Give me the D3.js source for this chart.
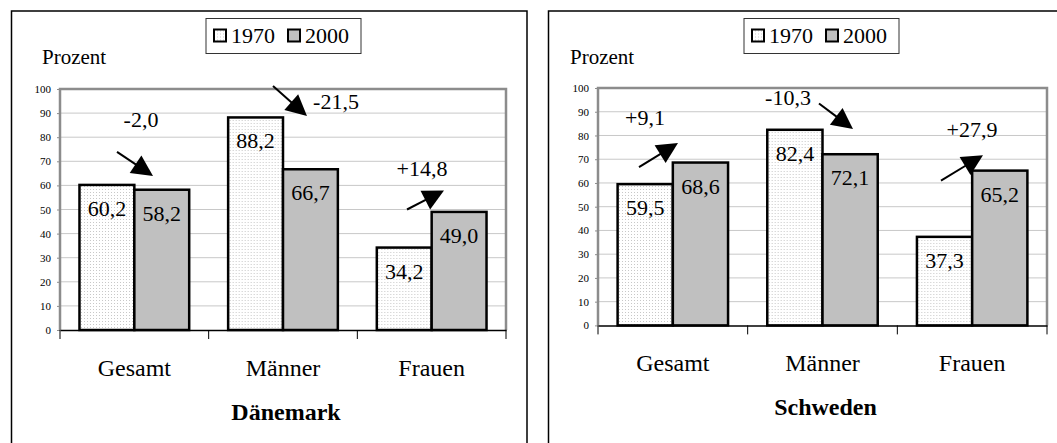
<!DOCTYPE html>
<html>
<head>
<meta charset="utf-8">
<script src="https://cdn.jsdelivr.net/npm/d3@7"></script>
</head>
<body style="margin:0; background:#fff">
<svg id="vis" width="1057" height="443" style="display:block"></svg>
<script>
// data
var categories = ["Gesamt", "Männer", "Frauen"];
var years = ["1970", "2000"];
var daenemark1970 = [60.2, 88.2, 34.2];
var daenemark2000 = [58.2, 66.7, 49.0];
var schweden1970 = [59.5, 82.4, 37.3];
var schweden2000 = [68.6, 72.1, 65.2];
var yTicks = [0, 10, 20, 30, 40, 50, 60, 70, 80, 90, 100];

var serif = "Liberation Serif";

// layout of the two panels (pixel positions, not data)
var panels = [
    {
        title: "Dänemark", v1970: daenemark1970, v2000: daenemark2000,
        frameX: 11.5, plot: {x: 60, y: 89, w: 446, h: 241}, prozentX: 42, legendX: 206,
        // label [dx, value], arrow from [dx, value] to [dx, value]
        notes: [
            {label: [81, 84.2], from: [57, 73.9], to: [93, 63.9]},
            {label: [276, 91.7], from: [213, 101.2], to: [247, 88.8]},
            {label: [362, 64.1], from: [347, 50], to: [384, 57.9]}
        ]
    },
    {
        title: "Schweden", v1970: schweden1970, v2000: schweden2000,
        frameX: 548.5, plot: {x: 598, y: 88, w: 449, h: 237.4}, prozentX: 570, legendX: 744,
        notes: [
            {label: [47, 84.4], from: [41, 66.7], to: [80, 76.8]},
            {label: [190, 92.8], from: [221, 93.5], to: [255, 82.7]},
            {label: [374, 79.4], from: [343, 61], to: [385, 71.7]}
        ]
    }
];

var fmt = function(v) { return v.toFixed(1).replace(".", ","); };
var fmtChange = function(v) { return (v > 0 ? "+" : "") + fmt(v); };

var svg = d3.select("#vis");

// dotted fill for 1970
var defs = svg.append("defs");
var pat = defs.append("pattern")
    .attr("id", "dots")
    .attr("width", 3)
    .attr("height", 3)
    .attr("patternUnits", "userSpaceOnUse");
pat.append("rect").attr("width", 3).attr("height", 3).attr("fill", "#fff");
pat.append("rect").attr("width", 1).attr("height", 1).attr("fill", "#c8c8c8");

var fills = {"1970": "url(#dots)", "2000": "#c0c0c0"};

var render_panel = function(p) {
    var g = svg.append("g");

    // outer frame (open at bottom / right edge of picture)
    g.append("path")
        .attr("d", "M" + p.frameX + ",443 V11 H" + (p.frameX + 515.5) + " V443")
        .attr("fill", "none")
        .attr("stroke", "#000")
        .attr("stroke-width", 1.5);

    var x = d3.scaleBand()
        .domain(categories)
        .range([p.plot.x, p.plot.x + p.plot.w]);

    var xSub = d3.scaleBand()
        .domain(years)
        .range([0, x.bandwidth()])
        .paddingOuter(0.355);

    var y = d3.scaleLinear()
        .domain([0, 100])
        .range([p.plot.y + p.plot.h, p.plot.y]);

    // grid lines
    g.append("g").selectAll("line")
        .data(yTicks.slice(1, -1))
        .enter()
        .append("line")
        .attr("x1", p.plot.x)
        .attr("x2", p.plot.x + p.plot.w)
        .attr("y1", d => y(d))
        .attr("y2", d => y(d))
        .attr("stroke", "#c8c8c8")
        .attr("stroke-width", 1);

    // plot border
    g.append("path")
        .attr("d", "M" + p.plot.x + "," + y(0) + " V" + y(100) + " H" + (p.plot.x + p.plot.w) + " V" + y(0))
        .attr("fill", "none")
        .attr("stroke", "#8c8c8c")
        .attr("stroke-width", 2.5);

    // y axis
    var yAxis = d3.axisLeft(y)
        .tickValues(yTicks)
        .tickSize(3)
        .tickPadding(6);
    var ya = g.append("g")
        .attr("transform", "translate(" + p.plot.x + ",0)")
        .call(yAxis);
    ya.attr("font-family", serif);
    ya.select(".domain").remove();
    ya.selectAll(".tick line").attr("stroke", "#8c8c8c");
    ya.selectAll("text")
        .attr("font-size", 11)
        .attr("fill", "#000");

    // bars
    var groups = g.append("g").selectAll("g")
        .data(categories)
        .enter()
        .append("g")
        .attr("transform", d => "translate(" + x(d) + ",0)");

    var barData = function(c, i) {
        return [{year: "1970", value: p.v1970[i]}, {year: "2000", value: p.v2000[i]}];
    };

    groups.selectAll("rect")
        .data(barData)
        .enter()
        .append("rect")
        .attr("x", d => xSub(d.year))
        .attr("y", d => y(d.value))
        .attr("width", xSub.bandwidth())
        .attr("height", d => y(0) - y(d.value))
        .attr("fill", d => fills[d.year])
        .attr("stroke", "#000")
        .attr("stroke-width", 2.5);

    groups.selectAll("text.val")
        .data(barData)
        .enter()
        .append("text")
        .attr("class", "val")
        .attr("x", d => xSub(d.year) + xSub.bandwidth() / 2)
        .attr("y", d => y(d.value) + 31)
        .attr("text-anchor", "middle")
        .attr("font-size", 22)
        .text(d => fmt(d.value));

    // x axis
    var xAxis = d3.axisBottom(x)
        .tickSize(0)
        .tickPadding(29);
    var xa = g.append("g")
        .attr("transform", "translate(0," + y(0) + ")")
        .call(xAxis);
    xa.attr("font-family", serif);
    xa.select(".domain").attr("stroke", "#000").attr("stroke-width", 1.5);
    xa.selectAll("text")
        .attr("font-size", 24)
        .attr("fill", "#000");
    xa.append("g").selectAll("line")
        .data(d3.range(categories.length + 1))
        .enter()
        .append("line")
        .attr("x1", i => p.plot.x + i * x.step())
        .attr("x2", i => p.plot.x + i * x.step())
        .attr("y1", 0)
        .attr("y2", 9)
        .attr("stroke", "#000");

    // change labels and arrows
    var notes = g.append("g").selectAll("g")
        .data(p.notes)
        .enter()
        .append("g");

    notes.append("text")
        .attr("x", (d) => p.plot.x + d.label[0])
        .attr("y", (d) => y(d.label[1]))
        .attr("text-anchor", "middle")
        .attr("font-size", 22)
        .text((d, i) => fmtChange(p.v2000[i] - p.v1970[i]));

    notes.each(function(d) {
        var x1 = p.plot.x + d.from[0], y1 = y(d.from[1]);
        var x2 = p.plot.x + d.to[0], y2 = y(d.to[1]);
        var len = Math.hypot(x2 - x1, y2 - y1);
        var ux = (x2 - x1) / len, uy = (y2 - y1) / len;
        var head = 21, half = 10.5;
        var bx = x2 - ux * head, by = y2 - uy * head;
        d3.select(this).append("line")
            .attr("x1", x1).attr("y1", y1)
            .attr("x2", bx + ux * 2).attr("y2", by + uy * 2)
            .attr("stroke", "#000")
            .attr("stroke-width", 2);
        d3.select(this).append("path")
            .attr("d", "M" + x2 + "," + y2 +
                " L" + (bx - uy * half) + "," + (by + ux * half) +
                " L" + (bx + uy * half) + "," + (by - ux * half) + "Z")
            .attr("fill", "#000");
    });

    // Prozent
    g.append("text")
        .attr("x", p.prozentX)
        .attr("y", 64)
        .attr("font-size", 21)
        .text("Prozent");

    // title
    g.append("text")
        .attr("x", p.plot.x + p.plot.w / 2 + 3)
        .attr("y", y(0) + 90)
        .attr("text-anchor", "middle")
        .attr("font-size", 24)
        .attr("font-weight", "bold")
        .text(p.title);

    // legend
    var lg = g.append("g")
        .attr("transform", "translate(" + p.legendX + ",18.5)");
    lg.append("rect")
        .attr("width", 155)
        .attr("height", 35)
        .attr("fill", "#fff")
        .attr("stroke", "#333")
        .attr("stroke-width", 1);
    var items = lg.selectAll("g")
        .data(years)
        .enter()
        .append("g")
        .attr("transform", (d, i) => "translate(" + (8 + i * 74) + ",0)");
    items.append("rect")
        .attr("y", 11)
        .attr("width", 12)
        .attr("height", 12)
        .attr("fill", d => fills[d])
        .attr("stroke", "#000")
        .attr("stroke-width", 2);
    items.append("text")
        .attr("x", 17)
        .attr("y", 24.5)
        .attr("font-size", 22)
        .text(d => d);
};

panels.forEach(render_panel);

// one font for every text
svg.selectAll("text")
    .attr("font-family", serif)
    .style("font-family", serif);
</script>
</body>
</html>
